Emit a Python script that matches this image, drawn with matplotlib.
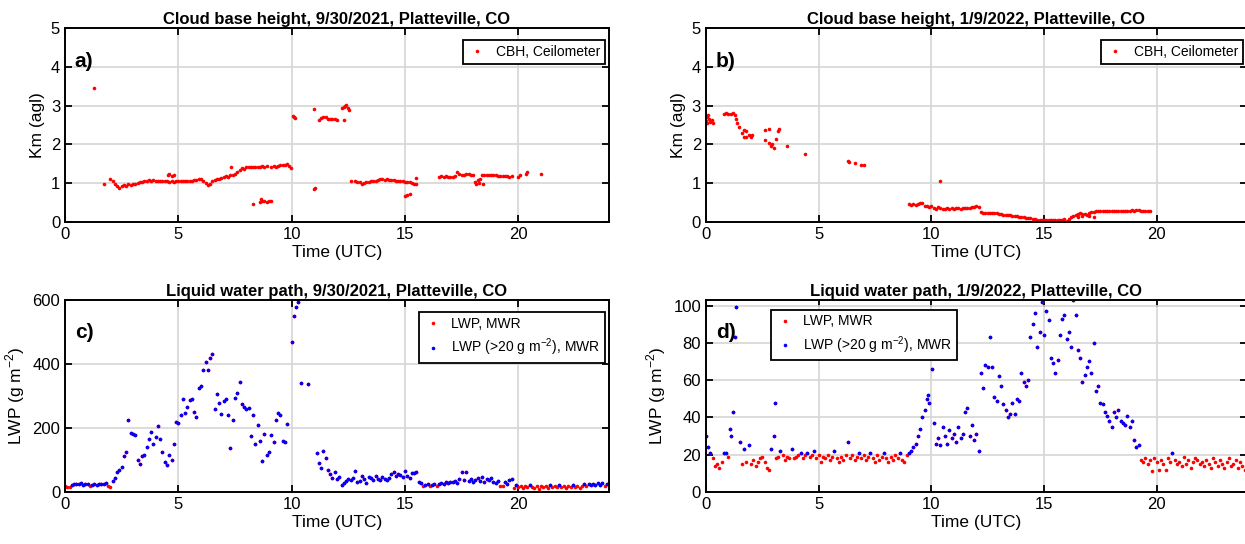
import numpy as np
import matplotlib
matplotlib.use('Agg')
import matplotlib.pyplot as plt

plt.rcParams['font.family'] = ['Liberation Sans', 'DejaVu Sans']

# ---- a) cloud base height, 9/30/2021 (hours UTC, km agl)
cbh_a_t = [1.3, 1.7,
           2.0, 2.1, 2.2, 2.3, 2.4, 2.5, 2.6, 2.7, 2.8, 2.9, 3.0, 3.1, 3.2, 3.3, 3.4, 3.5, 3.6, 3.7, 3.8, 3.9,
           4.0, 4.1, 4.2, 4.3, 4.4, 4.5, 4.55, 4.6, 4.7, 4.8,
           4.6, 4.7, 4.8, 4.9, 5.0, 5.1, 5.2, 5.3, 5.4, 5.5, 5.6, 5.7, 5.8, 5.9, 6.0, 6.1, 6.2, 6.3, 6.4,
           6.5, 6.6, 6.7, 6.8, 6.9, 7.0, 7.1, 7.2, 7.3, 7.32, 7.4, 7.5, 7.6, 7.7, 7.8, 7.9, 8.0, 8.1, 8.2,
           8.3, 8.4, 8.5, 8.6, 8.7, 8.8, 8.9,
           9.1, 9.2, 9.3, 9.4, 9.5, 9.6, 9.7, 9.8, 9.9, 9.95,
           8.3, 8.6, 8.65, 8.7, 8.8, 8.9, 9.0, 9.1,
           10.05, 10.1, 10.15, 11.0, 11.0, 11.02,
           11.2, 11.3, 11.4, 11.5, 11.6, 11.7, 11.8, 11.9, 12.0, 12.3,
           12.2, 12.3, 12.35, 12.4, 12.5, 12.55,
           12.6, 12.8, 12.9, 13.0, 13.1, 13.2, 13.3, 13.4, 13.5, 13.6, 13.7, 13.8, 13.9, 14.0, 14.1,
           14.2, 14.3, 14.4, 14.5, 14.6, 14.7, 14.8, 14.9, 15.0, 15.1, 15.2, 15.3, 15.4, 15.5, 15.5,
           15.0, 15.1, 15.2,
           16.5, 16.6, 16.7, 16.8, 16.9, 17.0, 17.1, 17.2, 17.3, 17.4, 17.5, 17.6, 17.7, 17.8, 17.9,
           18.0, 18.1, 18.2, 18.3, 18.4, 18.5, 18.6, 18.7, 18.8, 18.9, 19.0, 19.1, 19.2, 19.3, 19.4,
           19.5, 19.6, 19.7, 18.15, 18.25, 18.45,
           20.0, 20.05, 20.35, 20.4, 21.0]
cbh_a_v = [3.45, 0.98,
           1.10, 1.05, 0.98, 0.92, 0.88, 0.93, 0.95, 0.94, 0.97, 0.96, 0.98, 0.99, 1.00, 1.02, 1.03, 1.05, 1.06, 1.08, 1.07, 1.08,
           1.07, 1.06, 1.07, 1.06, 1.05, 1.06, 1.22, 1.25, 1.18, 1.20,
           1.04, 1.05, 1.04, 1.05, 1.06, 1.05, 1.05, 1.06, 1.06, 1.07, 1.07, 1.08, 1.09, 1.10, 1.10, 1.05, 1.00, 0.96, 0.98,
           1.05, 1.08, 1.10, 1.12, 1.14, 1.15, 1.18, 1.17, 1.20, 1.42, 1.22, 1.25, 1.30, 1.35, 1.40, 1.38, 1.42, 1.41, 1.43,
           1.42, 1.43, 1.42, 1.43, 1.44, 1.43, 1.44,
           1.42, 1.44, 1.43, 1.45, 1.46, 1.47, 1.48, 1.50, 1.45, 1.40,
           0.47, 0.52, 0.58, 0.55, 0.53, 0.52, 0.53, 0.55,
           2.73, 2.70, 2.68, 2.92, 0.85, 0.88,
           2.62, 2.68, 2.70, 2.72, 2.66, 2.65, 2.65, 2.66, 2.64, 2.62,
           2.95, 2.98, 3.00, 3.02, 2.95, 2.88,
           1.07, 1.05, 1.03, 1.02, 0.98, 1.00, 1.02, 1.04, 1.05, 1.05, 1.07, 1.08, 1.10, 1.10, 1.09,
           1.10, 1.08, 1.09, 1.08, 1.07, 1.06, 1.05, 1.05, 1.04, 1.03, 1.02, 1.00, 0.98, 0.97, 1.14,
           0.68, 0.70, 0.72,
           1.17, 1.18, 1.17, 1.18, 1.16, 1.15, 1.17, 1.18, 1.28, 1.25, 1.22, 1.20, 1.25, 1.24, 1.22,
           1.20, 1.03, 1.08, 1.10, 1.20, 1.22, 1.21, 1.20, 1.21, 1.20, 1.20, 1.19, 1.19, 1.18, 1.19,
           1.18, 1.16, 1.18, 0.98, 1.00, 0.97,
           1.15, 1.20, 1.25, 1.28, 1.23]

# ---- b) cloud base height, 1/9/2022
cbh_b_t = [0.0, 0.05, 0.05, 0.1, 0.15, 0.2, 0.25, 0.3,
           0.8, 0.9, 1.0, 1.1, 1.2, 1.3, 1.35, 1.4, 1.45,
           1.6, 1.7, 1.8, 1.9, 1.7, 1.8, 2.0, 2.05,
           2.6, 2.8, 2.6, 2.8, 2.9, 3.0, 2.95, 3.1, 3.2, 3.25,
           3.6, 4.4, 6.3, 6.35, 6.6, 6.9, 7.0, 10.4,
           9.0, 9.1, 9.2, 9.3, 9.4, 9.5, 9.6, 9.7, 9.8, 9.9, 10.0, 10.1, 10.2, 10.3, 10.4, 10.5, 10.6,
           10.7, 10.8, 10.9, 11.0, 11.1, 11.2, 11.3, 11.4, 11.5, 11.6, 11.7, 11.8, 11.9, 12.0, 12.1,
           12.2, 12.3, 12.4, 12.5, 12.6, 12.7, 12.8, 12.9, 13.0, 13.1, 13.2, 13.3, 13.4, 13.5, 13.6,
           13.7, 13.8, 13.9, 14.0, 14.1, 14.2, 14.3, 14.4, 14.5, 14.6, 14.7, 14.8, 14.9, 15.0, 15.1,
           15.2, 15.3, 15.4, 15.5, 15.6, 15.7, 15.8, 15.9, 16.0, 16.1, 16.2, 16.3, 16.4, 16.5, 16.6,
           16.7, 16.8, 16.9, 17.0, 17.1, 17.2, 17.3, 17.4, 17.5, 17.6, 17.7, 17.8, 17.9, 18.0, 18.1,
           18.2, 18.3, 18.4, 18.5, 18.6, 18.7, 18.8, 18.9, 19.0, 19.1, 19.2, 19.3, 19.4, 19.5, 19.6,
           19.7, 16.5, 16.7, 17.0, 17.2]
cbh_b_v = [2.60, 2.70, 2.55, 2.75, 2.65, 2.58, 2.62, 2.55,
           2.80, 2.82, 2.80, 2.78, 2.82, 2.75, 2.65, 2.55, 2.45,
           2.30, 2.38, 2.35, 2.25, 2.20, 2.20, 2.20, 2.25,
           2.38, 2.40, 2.12, 2.05, 1.95, 1.90, 2.00, 2.15, 2.35, 2.40,
           1.97, 1.75, 1.57, 1.56, 1.53, 1.48, 1.47, 1.05,
           0.47, 0.45, 0.46, 0.44, 0.47, 0.50, 0.48, 0.42, 0.40, 0.38, 0.40, 0.35, 0.33, 0.38, 0.36, 0.34, 0.33,
           0.35, 0.34, 0.35, 0.34, 0.35, 0.35, 0.34, 0.35, 0.36, 0.35, 0.36, 0.38, 0.38, 0.40, 0.38,
           0.25, 0.24, 0.23, 0.24, 0.23, 0.22, 0.24, 0.22, 0.21, 0.20, 0.19, 0.19, 0.18, 0.17, 0.16,
           0.16, 0.15, 0.13, 0.13, 0.12, 0.11, 0.10, 0.09, 0.08, 0.07, 0.06, 0.05, 0.04, 0.05, 0.04,
           0.05, 0.05, 0.06, 0.05, 0.06, 0.04, 0.05, 0.08, 0.03, 0.08, 0.12, 0.15, 0.18, 0.20, 0.22,
           0.20, 0.21, 0.18, 0.22, 0.25, 0.26, 0.27, 0.27, 0.28, 0.28, 0.28, 0.29, 0.28, 0.29, 0.29,
           0.28, 0.29, 0.28, 0.29, 0.28, 0.29, 0.29, 0.30, 0.29, 0.30, 0.30, 0.29, 0.29, 0.28, 0.29,
           0.28, 0.12, 0.15, 0.15, 0.14]

# ---- c) liquid water path, 9/30/2021 (g m-2)
lwp_c_t = [0.0, 0.1, 0.2, 0.3, 0.4, 0.5, 0.6, 0.7, 0.8, 0.9, 1.0, 1.1, 1.2, 1.3, 1.4, 1.5, 1.6, 1.7, 1.8, 1.9,
           2.0, 2.1, 2.2, 2.3, 2.4, 2.5, 2.6, 2.7, 2.8, 2.9, 3.0, 3.1, 3.2, 3.3, 3.4, 3.5, 3.6, 3.7, 3.8, 3.9,
           4.0, 4.1, 4.2, 4.3, 4.4, 4.5, 4.6, 4.7, 4.8, 4.9, 5.0, 5.1, 5.2, 5.3, 5.4, 5.5, 5.6, 5.7, 5.8, 5.9,
           6.0, 6.1, 6.2, 6.3, 6.4, 6.5, 6.6, 6.7, 6.8, 6.9, 7.0, 7.1, 7.2, 7.3, 7.4, 7.5, 7.6, 7.7, 7.8, 7.9,
           8.0, 8.1, 8.2, 8.3, 8.4, 8.5, 8.6, 8.7, 8.8, 8.9, 9.0, 9.1, 9.2, 9.3, 9.4, 9.5, 9.6, 9.7, 9.8,
           10.0, 10.1, 10.2, 10.3, 10.4, 10.7,
           11.1, 11.2, 11.3, 11.4, 11.5, 11.6, 11.7, 11.8, 11.9,
           12.0, 12.1, 12.2, 12.3, 12.4, 12.5, 12.6, 12.7, 12.8, 12.9, 13.0, 13.1, 13.2, 13.3, 13.4, 13.5,
           13.6, 13.7, 13.8, 13.9, 14.0, 14.1, 14.2, 14.3, 14.4, 14.5, 14.6, 14.7, 14.8, 14.9, 15.0, 15.1,
           15.2, 15.3, 15.4, 15.5, 15.6, 15.7, 15.8, 15.9, 16.0, 16.1, 16.2, 16.3, 16.4, 16.5, 16.6, 16.7,
           16.8, 16.9, 17.0, 17.1, 17.2, 17.3, 17.4, 17.5, 17.6, 17.7, 17.8, 17.9, 18.0, 18.1, 18.2, 18.3,
           18.4, 18.5, 18.6, 18.7, 18.8, 18.9, 19.0, 19.1, 19.2, 19.3, 19.4, 19.5, 19.6, 19.7, 19.8, 19.9,
           20.0, 20.1, 20.2, 20.3, 20.4, 20.5, 20.6, 20.7, 20.8, 20.9, 21.0, 21.1, 21.2, 21.3, 21.4, 21.5,
           21.6, 21.7, 21.8, 21.9, 22.0, 22.1, 22.2, 22.3, 22.4, 22.5, 22.6, 22.7, 22.8, 22.9, 23.0, 23.1,
           23.2, 23.3, 23.4, 23.5, 23.6, 23.7, 23.8, 23.9, 24.0]
lwp_c_v = [18, 15, 16, 22, 25, 26, 24, 27, 23, 25, 24, 20, 23, 25, 22, 24, 26, 25, 27, 18,
           17, 33, 45, 62, 70, 78, 114, 126, 225, 185, 180, 177, 100, 88, 112, 115, 140, 165, 188, 150,
           172, 205, 165, 125, 95, 85, 115, 100, 150, 218, 215, 242, 290, 248, 265, 288, 290, 250, 235, 325,
           330, 380, 405, 380, 420, 430, 258, 305, 278, 245, 285, 290, 240, 138, 225, 295, 310, 345, 275, 265,
           260, 262, 175, 240, 150, 210, 160, 98, 182, 115, 125, 178, 155, 225, 248, 240, 158, 155, 212,
           470, 550, 578, 595, 342, 338,
           122, 90, 75, 128, 105, 70, 55, 45, 62,
           40, 48, 22, 28, 35, 40, 38, 45, 65, 30, 35, 50, 42, 28, 48, 45,
           38, 50, 42, 38, 48, 40, 38, 45, 55, 62, 50, 55, 52, 48, 65, 50,
           45, 58, 60, 62, 30, 28, 18, 22, 25, 18, 22, 24, 20, 25, 28, 24,
           30, 28, 32, 30, 35, 28, 40, 62, 38, 62, 35, 42, 30, 38, 45, 35,
           48, 30, 42, 38, 45, 32, 28, 35, 18, 20, 30, 25, 38, 40, 12, 22,
           15, 18, 13, 20, 15, 22, 17, 14, 19, 10, 18, 15, 20, 13, 22, 17,
           19, 15, 21, 16, 18, 14, 20, 17, 22, 15, 19, 13, 18, 24, 20, 26,
           22, 25, 21, 27, 23, 28, 20, 25, 24]

# ---- d) liquid water path, 1/9/2022 (g m-2)
lwp_d_t = [0.0, 0.1, 0.2, 0.3, 0.4, 0.5, 0.6, 0.7, 0.8, 0.9, 1.0, 1.05, 1.1, 1.2, 1.3, 1.35, 1.5, 1.6, 1.7, 1.8, 1.9,
           2.0, 2.1, 2.2, 2.3, 2.4, 2.5, 2.6, 2.7, 2.8, 2.9, 3.0, 3.05, 3.1, 3.2, 3.3, 3.4, 3.5, 3.6, 3.7, 3.8, 3.9,
           4.0, 4.1, 4.2, 4.3, 4.4, 4.5, 4.6, 4.7, 4.8, 4.9, 5.0, 5.1, 5.2, 5.3, 5.4, 5.5, 5.6, 5.7, 5.8, 5.9,
           6.0, 6.1, 6.2, 6.3, 6.4, 6.5, 6.6, 6.7, 6.8, 6.9, 7.0, 7.1, 7.2, 7.3, 7.4, 7.5, 7.6, 7.7, 7.8, 7.9,
           8.0, 8.1, 8.2, 8.3, 8.4, 8.5, 8.6, 8.7, 8.8, 8.9, 9.0, 9.1, 9.2, 9.3, 9.4, 9.5, 9.6, 9.7, 9.8, 9.85,
           9.9, 10.0, 10.05, 10.1, 10.2, 10.3, 10.4, 10.5, 10.6, 10.7, 10.8, 10.9, 11.0, 11.1, 11.2, 11.3,
           11.4, 11.5, 11.6, 11.7, 11.8, 11.9, 12.0, 12.1, 12.2, 12.3, 12.4, 12.5, 12.6, 12.7, 12.8, 12.9,
           13.0, 13.1, 13.2, 13.3, 13.4, 13.5, 13.6, 13.7, 13.8, 13.9, 14.0, 14.1, 14.2, 14.3, 14.4, 14.5,
           14.6, 14.7, 14.8, 14.9, 15.0, 15.1, 15.2, 15.3, 15.4, 15.5, 15.6, 15.7, 15.8, 15.9, 16.0, 16.1,
           16.2, 16.3, 16.4, 16.5, 16.6, 16.7, 16.8, 16.9, 17.0, 17.1, 17.2, 17.3, 17.4, 17.5, 17.6, 17.7,
           17.8, 17.9, 18.0, 18.1, 18.2, 18.3, 18.4, 18.5, 18.6, 18.7, 18.8, 18.9, 19.0, 19.1, 19.2, 19.3,
           19.4, 19.5, 19.6, 19.7, 19.8, 19.9, 20.0, 20.1, 20.2, 20.3, 20.4, 20.5, 20.6, 20.7, 20.8, 20.9,
           21.0, 21.1, 21.2, 21.3, 21.4, 21.5, 21.6, 21.7, 21.8, 21.9, 22.0, 22.1, 22.2, 22.3, 22.4, 22.5,
           22.6, 22.7, 22.8, 22.9, 23.0, 23.1, 23.2, 23.3, 23.4, 23.5, 23.6, 23.7, 23.8, 23.9, 24.0]
lwp_d_v = [30, 24, 21, 18, 14, 15, 13, 16, 21, 21, 19, 34, 30, 43, 83, 99, 27, 15, 23, 16, 25,
           15, 17, 14, 16, 18, 19, 16, 13, 12, 23, 30, 48, 18, 19, 22, 20, 17, 19, 18, 23, 18,
           19, 20, 21, 18, 20, 21, 19, 20, 22, 18, 20, 16, 19, 18, 20, 17, 19, 22, 18, 16,
           19, 17, 20, 27, 18, 20, 17, 19, 21, 18, 20, 17, 19, 21, 18, 16, 20, 17, 19, 21,
           18, 16, 19, 17, 20, 18, 21, 17, 16, 20, 21, 22, 24, 26, 30, 34, 40, 44, 50, 52,
           48, 78, 66, 37, 26, 29, 25, 35, 30, 26, 33, 29, 31, 27, 35, 29,
           31, 43, 45, 30, 36, 28, 31, 22, 64, 56, 68, 67, 83, 67, 51, 49,
           62, 57, 47, 44, 40, 42, 48, 42, 50, 49, 64, 59, 57, 60, 83, 90,
           96, 78, 86, 102, 84, 97, 92, 72, 69, 64, 71, 84, 93, 95, 82, 86,
           78, 103, 95, 76, 72, 59, 63, 67, 70, 64, 80, 54, 57, 48, 47, 43,
           41, 38, 35, 43, 40, 44, 38, 37, 36, 41, 35, 38, 28, 24, 25, 17,
           16, 18, 15, 17, 11, 18, 16, 12, 17, 15, 12, 18, 16, 21, 17, 15,
           16, 14, 19, 15, 17, 13, 16, 18, 17, 15, 16, 14, 17, 15, 13, 18,
           16, 14, 17, 15, 13, 16, 18, 14, 15, 17, 13, 16, 14, 12, 11]

lwp_thresh = 20

fig = plt.figure(figsize=(12.45, 5.44), dpi=100)
ax_a = fig.add_axes([0.0522, 0.592, 0.437, 0.356])
ax_b = fig.add_axes([0.567, 0.592, 0.4345, 0.356])
ax_c = fig.add_axes([0.0522, 0.0956, 0.437, 0.353])
ax_d = fig.add_axes([0.567, 0.0956, 0.4345, 0.353])


def style(ax, label):
    ax.set_xlim(0, 24)
    ax.set_xticks([0, 5, 10, 15, 20])
    ax.grid(True, color='#d6d6d6', linewidth=1.2)
    ax.set_axisbelow(True)
    ax.tick_params(direction='in', length=5, width=1.3, top=True, right=True, labelsize=12)
    for s in ax.spines.values():
        s.set_linewidth(1.4)
    ax.set_xlabel('Time (UTC)', fontsize=12.5, labelpad=2)
    ax.text(0.018, 0.83, label, transform=ax.transAxes, fontsize=15, fontweight='bold', va='center')


def leg(ax, **kw):
    lg = ax.legend(fontsize=10, fancybox=False, edgecolor='black', framealpha=1,
                   handlelength=1.3, handletextpad=0.7, borderpad=0.35, labelspacing=0.4,
                   borderaxespad=0, **kw)
    lg.get_frame().set_linewidth(1.3)


ms = 2.6
for ax, t, v, ttl, lab in [(ax_a, cbh_a_t, cbh_a_v, 'Cloud base height, 9/30/2021, Platteville, CO', 'a)'),
                           (ax_b, cbh_b_t, cbh_b_v, 'Cloud base height, 1/9/2022, Platteville, CO', 'b)')]:
    ax.plot(t, v, 'o', color='red', ms=ms, mew=0, label='CBH, Ceilometer')
    ax.set_ylim(0, 5)
    ax.set_ylabel('Km (agl)', fontsize=12.5)
    ax.set_title(ttl, fontsize=12, fontweight='bold', pad=3)
    style(ax, lab)
    leg(ax, loc='upper right', bbox_to_anchor=(0.993, 0.94))

for ax, t, v, ttl, lab, ytop, yt in [
        (ax_c, lwp_c_t, lwp_c_v, 'Liquid water path, 9/30/2021, Platteville, CO', 'c)', 600, [0, 200, 400, 600]),
        (ax_d, lwp_d_t, lwp_d_v, 'Liquid water path, 1/9/2022, Platteville, CO', 'd)', 103, [0, 20, 40, 60, 80, 100])]:
    t = np.array(t)
    v = np.array(v)
    hi = v > lwp_thresh
    ax.plot(t, v, 'o', color='red', ms=ms, mew=0, label='LWP, MWR')
    ax.plot(t[hi], v[hi], 'o', color='blue', ms=ms, mew=0, label='LWP (>20 g m$^{\\mathregular{-2}}$), MWR')
    ax.set_ylim(0, ytop)
    ax.set_yticks(yt)
    ax.set_ylabel('LWP (g m$^{\\mathregular{-2}}$)', fontsize=12.5)
    ax.set_title(ttl, fontsize=12, fontweight='bold', pad=3)
    style(ax, lab)

leg(ax_c, loc='upper right', bbox_to_anchor=(0.993, 0.935))
leg(ax_d, loc='upper left', bbox_to_anchor=(0.12, 0.95))

fig.savefig('out.png', dpi=100)
